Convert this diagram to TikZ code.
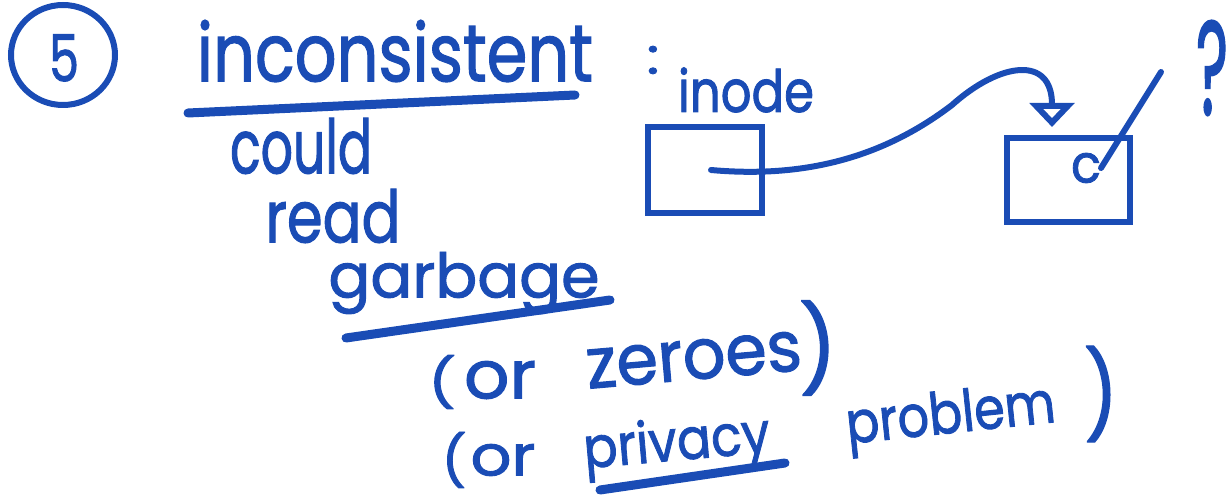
\documentclass[tikz,border=0pt]{standalone}
\usepackage{fontspec}
\setmainfont{Poppins}[FakeBold=1.6]
\usetikzlibrary{arrows.meta,shapes.geometric}
\definecolor{ink}{HTML}{1A4CB5}
\newlength\pxu \setlength\pxu{0.5pt}
\newcommand\hw[3]{\resizebox*{#1\pxu}{#2\pxu}{#3}}
\begin{document}
\begin{tikzpicture}[x=0.5pt,y=-0.5pt,
  word/.style={inner sep=0pt,outer sep=0pt,text=ink},
  pen/.style={draw=ink,line width=3pt,line cap=round,line join=round},
  uline/.style={draw=ink,line width=4.5pt,line cap=round},
  boxnode/.style={draw=ink,line width=3pt,rectangle,inner sep=0pt}]
\useasboundingbox (0,0) rectangle (1232,496);
% numbered circle
\node[ellipse,draw=ink,line width=3pt,minimum width=104\pxu,minimum height=100\pxu,inner sep=0pt] (num) at (63,55) {};
\node[word] (five) at (64,58) {\hw{30}{47}{5}};
% title
\node[word] (incons) at (395,51) {\hw{396}{62}{inconsistent}};
\node[word] (colon) at (653,60) {\hw{13}{28}{:}};
\draw[uline] (188,113) -- (575,95);
% left column
\node[word] (could) at (301,146) {\hw{142}{56}{could}};
\node[word] (read) at (333,216) {\hw{135}{54}{read}};
\node[word] (garbage) at (464,283) {\hw{271}{62}{garbage}};
\draw[uline] (346,338) -- (610,300);
\node[word] (lp1) at (442,382) {\hw{28}{54}{(}};
\node[word] (or1) at (500,380) {\hw{72}{38}{or}};
\node[word,rotate=5] (zeroes) at (694,360) {\hw{216}{40}{zeroes}};
\node[word] (rp1) at (818,348) {\hw{38}{95}{)}};
\node[word] (lp2) at (454,460) {\hw{25}{56}{(}};
\node[word] (or2) at (503,460) {\hw{65}{32}{or}};
\node[word,rotate=5] (privacy) at (677,446) {\hw{187}{58}{privacy}};
\draw[uline] (600,490) -- (785,463);
\node[word,rotate=6] (problem) at (951,419) {\hw{210}{58}{problem}};
\node[word] (rp2) at (1101,394) {\hw{34}{96}{)}};
% inode diagram
\node[word] (inode) at (746,90) {\hw{136}{45}{inode}};
\node[boxnode,minimum width=114\pxu,minimum height=86\pxu] (box1) at (705,170) {};
\node[boxnode,minimum width=123\pxu,minimum height=84\pxu] (box2) at (1068,180) {};
\node[word] (c) at (1086,168) {\hw{30}{30}{c}};
\coordinate (penend) at (1161,72);
\draw[pen] (c.east) -- (penend);
\draw[pen,-{Triangle[open,length=12pt,width=22pt,line width=3pt]}]
  ([xshift=3pt]box1.center) .. controls (800,178) and (880,160) .. (952,105)
  .. controls (1000,62) and (1052,55) .. ([xshift=-8pt,yshift=4pt]box2.north);
\node[word] (qmark) at (1212,68) {\hw{32}{95}{?}};
\end{tikzpicture}
\end{document}
